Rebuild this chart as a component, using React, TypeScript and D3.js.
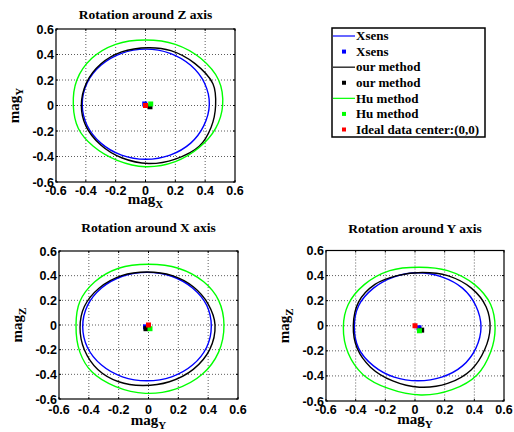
import React from "react";
import * as d3 from "d3";

type Pt = [number, number];

const tickValues = [-0.6, -0.4, -0.2, 0, 0.2, 0.4, 0.6];
const tickLabels = ["-0.6", "-0.4", "-0.2", "0", "0.2", "0.4", "0.6"];

const titles = ["Rotation around Z axis", "Rotation around X axis", "Rotation around Y axis"];
const xLabelSubs = ["X", "Y", "Y"];
const yLabelSubs = ["Y", "Z", "Z"];

const legendLabels = ["Xsens", "Xsens", "our method", "our method", "Hu method", "Hu method", "Ideal data center:(0,0)"];

// Rotation around Z axis
const zXsens: Pt[] = [
  [0.428, 0.01], [0.396, 0.175], [0.303, 0.315], [0.165, 0.409], [0.002, 0.442], [-0.161, 0.409],
  [-0.299, 0.315], [-0.392, 0.175], [-0.424, 0.01], [-0.392, -0.155], [-0.299, -0.295], [-0.161, -0.389],
  [0.002, -0.422], [0.165, -0.389], [0.303, -0.295], [0.39, -0.16],
];
const zOur: Pt[] = [
  [0.47, 0.0], [0.452, 0.17], [0.33, 0.33], [0.17, 0.43], [0.02, 0.453], [-0.16, 0.42],
  [-0.3, 0.325], [-0.395, 0.18], [-0.43, 0.0], [-0.4, -0.16], [-0.3, -0.31], [-0.16, -0.41],
  [0.02, -0.455], [0.2, -0.42], [0.36, -0.32], [0.44, -0.17],
];
const zHu: Pt[] = [
  [0.517, 0.0], [0.49, 0.2], [0.37, 0.37], [0.2, 0.48], [0.0, 0.514], [-0.2, 0.48],
  [-0.36, 0.37], [-0.46, 0.2], [-0.484, 0.0], [-0.45, -0.18], [-0.35, -0.32], [-0.19, -0.43],
  [0.0, -0.48], [0.2, -0.44], [0.36, -0.33], [0.47, -0.18],
];

// Rotation around X axis
const xXsens: Pt[] = [
  [0.421, -0.01], [0.39, 0.16], [0.295, 0.3], [0.155, 0.395], [-0.01, 0.427], [-0.175, 0.395],
  [-0.315, 0.3], [-0.41, 0.155], [-0.441, -0.012], [-0.41, -0.18], [-0.315, -0.325], [-0.175, -0.42],
  [-0.01, -0.452], [0.155, -0.42], [0.295, -0.325], [0.39, -0.18],
];
const xOur: Pt[] = [
  [0.446, 0.0], [0.4, 0.17], [0.3, 0.31], [0.16, 0.4], [-0.01, 0.43], [-0.18, 0.4],
  [-0.33, 0.3], [-0.43, 0.15], [-0.459, -0.02], [-0.43, -0.2], [-0.34, -0.36], [-0.2, -0.46],
  [-0.04, -0.49], [0.14, -0.46], [0.3, -0.36], [0.41, -0.2],
];
const xHu: Pt[] = [
  [0.506, 0.0], [0.47, 0.2], [0.37, 0.35], [0.2, 0.46], [0.0, 0.492], [-0.2, 0.46],
  [-0.36, 0.35], [-0.46, 0.19], [-0.486, 0.0], [-0.46, -0.22], [-0.38, -0.38], [-0.22, -0.5],
  [-0.02, -0.554], [0.18, -0.52], [0.36, -0.4], [0.47, -0.22],
];

// Rotation around Y axis
const yXsens: Pt[] = [
  [0.445, -0.01], [0.41, 0.16], [0.32, 0.3], [0.18, 0.39], [0.02, 0.423], [-0.14, 0.39],
  [-0.28, 0.3], [-0.38, 0.16], [-0.409, -0.01], [-0.38, -0.18], [-0.28, -0.32], [-0.14, -0.41],
  [0.02, -0.439], [0.18, -0.41], [0.32, -0.32], [0.41, -0.18],
];
const yOur: Pt[] = [
  [0.506, -0.02], [0.48, 0.15], [0.38, 0.3], [0.22, 0.4], [0.05, 0.425], [-0.12, 0.4],
  [-0.27, 0.33], [-0.38, 0.19], [-0.416, 0.0], [-0.39, -0.18], [-0.3, -0.33], [-0.15, -0.44],
  [0.03, -0.49], [0.22, -0.46], [0.38, -0.35], [0.47, -0.19],
];
const yHu: Pt[] = [
  [0.54, -0.02], [0.51, 0.17], [0.4, 0.33], [0.22, 0.44], [0.03, 0.467], [-0.17, 0.44],
  [-0.34, 0.33], [-0.45, 0.17], [-0.483, -0.01], [-0.45, -0.22], [-0.35, -0.39], [-0.18, -0.5],
  [0.04, -0.552], [0.25, -0.51], [0.42, -0.39], [0.51, -0.21],
];

// data centers per panel (Z, X, Y)
const xsensCenters: Pt[] = [[-0.005, 0.012], [-0.02, -0.015], [0.027, -0.016]];
const ourCenters: Pt[] = [[0.03, -0.01], [-0.017, -0.03], [0.045, -0.035]];
const huCenters: Pt[] = [[0.035, 0.012], [0.01, -0.03], [0.03, -0.04]];
const idealCenter: Pt = [0, 0];

const curves = [
  [zXsens, zOur, zHu],
  [xXsens, xOur, xHu],
  [yXsens, yOur, yHu],
];

const COLORS = { xsens: "#0000ff", our: "#000000", hu: "#00ff00", ideal: "#ff0000" };

const panels = [
  { left: 56, right: 235, top: 29, bottom: 182, titleY: 19, xLabY: 204, yLabX: 19, xTickY: 195 },
  { left: 59, right: 238, top: 251, bottom: 399, titleY: 232, xLabY: 425, yLabX: 22, xTickY: 414 },
  { left: 326, right: 504, top: 250.5, bottom: 401, titleY: 233, xLabY: 424, yLabX: 289, xTickY: 414 },
];

const serif = "'Liberation Serif', 'Times New Roman', serif";
const sans = "'Liberation Sans', Arial, sans-serif";

function Panel({ idx }: { idx: number }) {
  const p = panels[idx];
  const x = d3.scaleLinear().domain([-0.6, 0.6]).range([p.left, p.right]);
  const y = d3.scaleLinear().domain([-0.6, 0.6]).range([p.bottom, p.top]);
  const line = d3
    .line<Pt>()
    .x((d) => x(d[0]))
    .y((d) => y(d[1]))
    .curve(d3.curveCatmullRomClosed.alpha(0.5));
  const [cx, cOur, cHu] = curves[idx];
  const cxm = (p.left + p.right) / 2;
  const cym = (p.top + p.bottom) / 2;
  const sq = (pt: Pt, color: string, s: number, key: string) => (
    <rect key={key} x={x(pt[0]) - s / 2} y={y(pt[1]) - s / 2} width={s} height={s} fill={color} />
  );
  const inner = tickValues.slice(1, -1);
  return (
    <g>
      {inner.map((t) => (
        <g key={"g" + t}>
          <line x1={x(t)} x2={x(t)} y1={p.top} y2={p.bottom} stroke="#333" strokeWidth={0.8} strokeDasharray="1,2" />
          <line x1={p.left} x2={p.right} y1={y(t)} y2={y(t)} stroke="#333" strokeWidth={0.8} strokeDasharray="1,2" />
        </g>
      ))}
      <path d={line(cx) || ""} fill="none" stroke={COLORS.xsens} strokeWidth={1.4} />
      {sq(xsensCenters[idx], COLORS.xsens, 5, "cx")}
      <path d={line(cOur) || ""} fill="none" stroke={COLORS.our} strokeWidth={1.4} />
      {sq(ourCenters[idx], COLORS.our, 5, "co")}
      <path d={line(cHu) || ""} fill="none" stroke={COLORS.hu} strokeWidth={1.4} />
      {sq(huCenters[idx], COLORS.hu, 5, "ch")}
      {sq(idealCenter, COLORS.ideal, 5, "ci")}
      <rect x={p.left} y={p.top} width={p.right - p.left} height={p.bottom - p.top} fill="none" stroke="#000" strokeWidth={1.2} />
      {tickValues.map((t) => (
        <g key={"t" + t}>
          <line x1={x(t)} x2={x(t)} y1={p.bottom} y2={p.bottom - 2} stroke="#000" />
          <line x1={x(t)} x2={x(t)} y1={p.top} y2={p.top + 2} stroke="#000" />
          <line x1={p.left} x2={p.left + 2} y1={y(t)} y2={y(t)} stroke="#000" />
          <line x1={p.right} x2={p.right - 2} y1={y(t)} y2={y(t)} stroke="#000" />
        </g>
      ))}
      {tickValues.map((t, i) => (
        <text key={"xl" + t} x={x(t)} y={p.xTickY} textAnchor="middle" fontFamily={sans} fontWeight="bold" fontSize={12.5}>
          {tickLabels[i]}
        </text>
      ))}
      {tickValues.map((t, i) => (
        <text key={"yl" + t} x={p.left - 2} y={y(t)} dy="0.36em" textAnchor="end" fontFamily={sans} fontWeight="bold" fontSize={12.5}>
          {tickLabels[i]}
        </text>
      ))}
      <text x={cxm} y={p.titleY} textAnchor="middle" fontFamily={serif} fontWeight="bold" fontSize={13.5}>
        {titles[idx]}
      </text>
      <text x={cxm} y={p.xLabY} textAnchor="middle" fontFamily={serif} fontWeight="bold" fontSize={15}>
        mag
        <tspan fontSize={11} dy={4}>{xLabelSubs[idx]}</tspan>
      </text>
      <text
        transform={`translate(${p.yLabX},${cym}) rotate(-90)`}
        textAnchor="middle"
        fontFamily={serif}
        fontWeight="bold"
        fontSize={15}
      >
        mag
        <tspan fontSize={11} dy={4}>{yLabelSubs[idx]}</tspan>
      </text>
    </g>
  );
}

function Legend() {
  const left = 332;
  const right = 485;
  const top = 28;
  const bottom = 137;
  const rowY = d3.scaleLinear().domain([0, legendLabels.length - 1]).range([36, 129.5]);
  const colors = [COLORS.xsens, COLORS.xsens, COLORS.our, COLORS.our, COLORS.hu, COLORS.hu, COLORS.ideal];
  return (
    <g>
      <rect x={left} y={top} width={right - left} height={bottom - top} fill="#fff" stroke="#000" strokeWidth={1.5} />
      {legendLabels.map((lab, i) => {
        const yy = rowY(i);
        const isLine = i % 2 === 0 && i < 6;
        return (
          <g key={i}>
            {isLine ? (
              <line x1={333} x2={355} y1={yy} y2={yy} stroke={colors[i]} strokeWidth={1.2} />
            ) : (
              <rect x={344 - 2} y={yy - 2} width={4} height={4} fill={colors[i]} />
            )}
            <text x={356} y={yy} dy="0.33em" fontFamily={serif} fontWeight="bold" fontSize={13}>
              {lab}
            </text>
          </g>
        );
      })}
    </g>
  );
}

export default function App() {
  return (
    <svg width={514} height={432} style={{ position: "absolute", left: 0, top: 0, background: "#fff" }}>
      <rect x={0} y={0} width={514} height={432} fill="#fff" />
      <Panel idx={0} />
      <Panel idx={1} />
      <Panel idx={2} />
      <Legend />
    </svg>
  );
}
